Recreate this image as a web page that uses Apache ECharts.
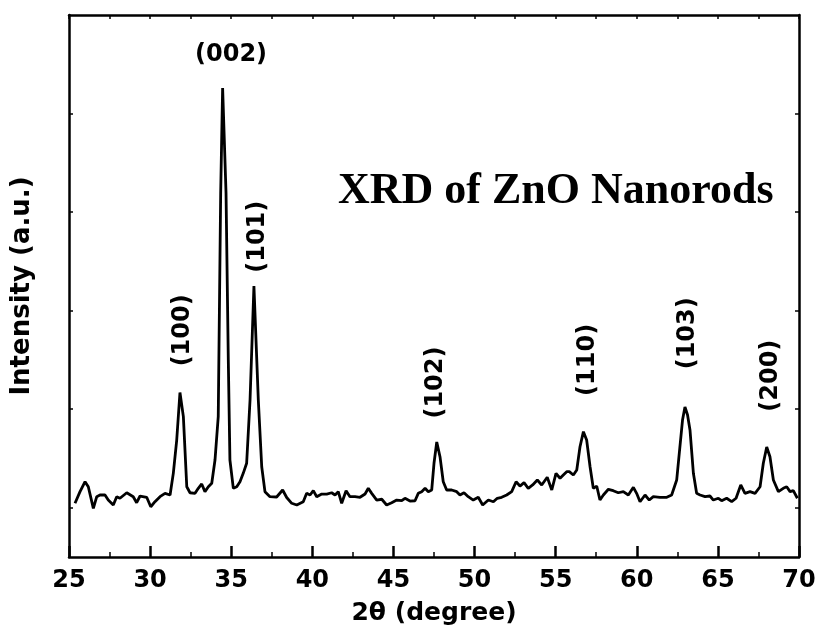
<!DOCTYPE html>
<html>
<head>
<meta charset="utf-8">
<script src="https://cdn.jsdelivr.net/npm/echarts@6/dist/echarts.min.js"></script>
<style>html,body{margin:0;padding:0;background:#fff}#chart{width:826px;height:635px}</style>
</head>
<body>
<div id="chart"></div>
<script>
// 2θ positions (degree)
var twoTheta = [25.37,25.68,25.99,26.19,26.50,26.71,26.91,27.22,27.42,27.73,27.94,28.14,28.56,28.96,29.17,29.38,29.79,30.04,30.30,30.61,30.92,31.23,31.43,31.64,31.84,32.05,32.26,32.46,32.77,32.97,33.18,33.38,33.59,33.80,34.00,34.20,34.35,34.47,34.68,34.82,34.92,35.13,35.34,35.54,35.74,35.95,36.16,36.40,36.67,36.88,37.08,37.39,37.80,38.17,38.42,38.73,39.04,39.44,39.65,39.86,40.06,40.27,40.58,40.89,41.19,41.40,41.60,41.81,42.08,42.32,42.63,42.94,43.25,43.45,43.66,43.97,44.28,44.58,44.89,45.20,45.51,45.71,46.02,46.33,46.53,46.74,46.95,47.15,47.36,47.50,47.67,47.87,48.07,48.28,48.59,48.90,49.10,49.35,49.61,49.92,50.23,50.50,50.85,51.16,51.40,51.67,51.98,52.29,52.56,52.80,53.05,53.31,53.58,53.87,54.14,54.48,54.76,55.02,55.27,55.47,55.68,55.84,56.09,56.30,56.50,56.71,56.91,57.12,57.32,57.53,57.73,57.94,58.25,58.55,58.86,59.17,59.48,59.79,59.99,60.20,60.51,60.77,61.02,61.43,61.85,62.15,62.46,62.66,62.82,62.97,63.13,63.28,63.49,63.69,63.90,64.21,64.51,64.72,65.03,65.23,65.54,65.85,66.12,66.41,66.67,66.98,67.29,67.60,67.80,68.01,68.21,68.42,68.73,69.03,69.24,69.45,69.65,69.90];
// Intensity (a.u.)
var intensity = [54.5,66.3,76.4,71.3,49.4,61.2,62.9,62.9,57.8,52.8,61.2,59.6,65.2,61.2,55.1,61.9,60.6,51.0,56.1,61.2,64.6,62.9,84.9,118.7,166.9,142.4,71.3,65.2,64.6,69.7,74.1,66.3,71.3,74.8,98.4,142.4,369.1,475.9,369.1,199.9,98.4,69.7,71.3,76.4,84.9,95.1,159.3,275.0,159.3,91.6,66.3,61.2,60.9,68.0,60.4,54.5,52.8,56.1,64.6,62.9,67.3,61.2,63.9,63.9,65.2,62.9,66.3,54.5,67.3,61.2,61.2,60.6,63.9,69.7,64.6,57.8,58.6,52.8,55.1,57.8,57.1,59.6,56.8,57.1,64.6,66.3,69.7,66.3,68.0,95.1,116.7,101.8,76.4,68.0,68.0,66.3,62.9,65.2,61.2,57.8,60.6,52.8,57.8,56.1,59.6,60.6,62.9,66.3,76.4,72.0,75.4,69.7,73.1,78.1,73.1,80.9,68.0,84.9,79.9,83.2,86.6,86.6,83.2,88.3,111.9,127.2,118.7,91.6,69.7,72.0,57.8,62.9,68.7,67.3,65.2,66.3,62.9,70.7,64.6,56.1,62.9,57.8,61.2,60.6,60.6,62.9,78.1,111.9,139.0,152.2,144.1,128.9,84.9,64.6,62.9,61.2,61.9,57.8,59.6,57.1,59.6,56.1,59.6,73.1,64.6,66.3,64.6,71.3,95.1,111.6,101.8,78.1,66.3,69.7,71.3,66.3,67.3,59.6];
// Peak labels (Miller indices) and their anchor positions
var peakNames = ["(100)","(002)","(101)","(102)","(110)","(103)","(200)"];
var peakLabelX = [32.0,34.99,36.62,47.62,56.99,63.16,68.27];
var peakLabelY = [230,510,325,177,200,227,184];
var peakRotate = [90,0,90,90,90,90,90];
var xTickLabels = [25,30,35,40,45,50,55,60,65,70];

var chart = echarts.init(document.getElementById('chart'), null, {renderer:'canvas'});
var lineData = twoTheta.map(function(x,i){return [x,intensity[i]];});
var labelData = peakNames.map(function(n,i){
  return {value:[peakLabelX[i],peakLabelY[i]], name:n,
    label:{rotate:peakRotate[i]}};
});
var FONT = '"DejaVu Sans", Arial, sans-serif';
var option = {
  animation:false,
  backgroundColor:'#fff',
  title:{
    text:'XRD of ZnO Nanorods',
    left:333, top:165,
    textStyle:{fontFamily:'"Liberation Serif","Times New Roman",serif',fontWeight:'bold',fontSize:44,color:'#000'}
  },
  grid:{left:69,right:27,top:15,bottom:78},
  xAxis:[{
    type:'value', min:25, max:70, interval:5,
    name:'2θ (degree)', nameLocation:'middle', nameGap:44,
    nameTextStyle:{fontFamily:FONT,fontWeight:'bold',fontSize:25,color:'#000'},
    axisLine:{show:true,onZero:false,lineStyle:{color:'#000',width:2.5}},
    axisTick:{show:true,inside:true,length:11,lineStyle:{color:'#000',width:2.5}},
    minorTick:{show:true,splitNumber:2,length:5,lineStyle:{color:'#000',width:1.5}},
    axisLabel:{show:true,margin:12,fontFamily:FONT,fontWeight:'bold',fontSize:24,color:'#000',
      formatter:function(v){return xTickLabels.indexOf(v)>=0?String(v):'';}},
    splitLine:{show:false}
  },{
    type:'value', min:25, max:70, interval:2.5, position:'top',
    axisLine:{show:true,onZero:false,lineStyle:{color:'#000',width:2.5}},
    axisTick:{show:true,inside:true,length:4,lineStyle:{color:'#000',width:1.5}},
    axisLabel:{show:false}, splitLine:{show:false}
  }],
  yAxis:[{
    type:'value', min:0, max:550,
    name:'Intensity (a.u.)', nameLocation:'middle', nameGap:34,
    nameTextStyle:{fontFamily:FONT,fontWeight:'bold',fontSize:26,color:'#000'},
    axisLine:{show:true,onZero:false,lineStyle:{color:'#000',width:2.5}},
    axisTick:{show:true,inside:true,length:4,customValues:[50,150,250,350,450],lineStyle:{color:'#000',width:1.5}},
    axisLabel:{show:false}, splitLine:{show:false}
  },{
    type:'value', min:0, max:550, position:'right',
    axisLine:{show:true,onZero:false,lineStyle:{color:'#000',width:2.5}},
    axisTick:{show:true,inside:true,length:4,customValues:[50,150,250,350,450],lineStyle:{color:'#000',width:1.5}},
    axisLabel:{show:false}, splitLine:{show:false}
  }],
  series:[{
    type:'line', xAxisIndex:0, yAxisIndex:0, data:lineData,
    showSymbol:false, symbol:'none', smooth:false,
    lineStyle:{color:'#000',width:2.8}, z:3
  },{
    type:'scatter', xAxisIndex:0, yAxisIndex:0, data:labelData,
    symbolSize:0, silent:true,
    itemStyle:{opacity:1,color:'#000'},
    label:{show:true,position:'inside',formatter:'{b}',opacity:1,
      fontFamily:FONT,fontWeight:'bold',fontSize:24,color:'#000'}
  }]
};
chart.setOption(option);
</script>
</body>
</html>
